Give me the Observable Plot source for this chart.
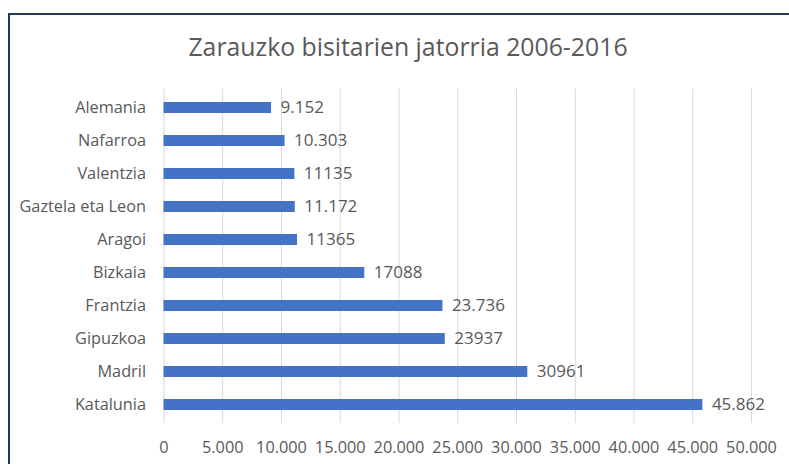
<!DOCTYPE html>
<html>
<head>
<meta charset="utf-8">
<script src="https://cdn.jsdelivr.net/npm/d3@7"></script>
<script src="https://cdn.jsdelivr.net/npm/@observablehq/plot@0.6"></script>
<style>
  html, body { margin: 0; padding: 0; background: #fff; }
  #wrap { position: relative; width: 789px; height: 464px; overflow: hidden; font-family: "Open Sans", sans-serif; }
  #frame { position: absolute; left: 8px; top: 13px; width: 800px; height: 500px; border-top: 2px solid #1f3864; border-left: 2px solid #1f3864; box-sizing: border-box; }
  #title { position: absolute; left: 0; width: 816px; top: 29px; text-align: center; font-size: 24.8px; color: #595959; line-height: 34px; }
  #chart { position: absolute; left: 0; top: 0; }
</style>
</head>
<body>
<div id="wrap">
  <div id="frame"></div>
  <div id="title">Zarauzko bisitarien jatorria 2006-2016</div>
  <div id="chart"></div>
</div>
<script>
const regions = ["Alemania", "Nafarroa", "Valentzia", "Gaztela eta Leon", "Aragoi", "Bizkaia", "Frantzia", "Gipuzkoa", "Madril", "Katalunia"];
const visitors = [9152, 10303, 11135, 11172, 11365, 17088, 23736, 23937, 30961, 45862];
const valueLabels = ["9.152", "10.303", "11135", "11.172", "11365", "17088", "23.736", "23937", "30961", "45.862"];
const xTicks = [0, 5000, 10000, 15000, 20000, 25000, 30000, 35000, 40000, 45000, 50000];
const xTickLabels = ["0", "5.000", "10.000", "15.000", "20.000", "25.000", "30.000", "35.000", "40.000", "45.000", "50.000"];

const data = regions.map((r, i) => ({region: r, value: visitors[i], label: valueLabels[i]}));
const fmt = (d) => xTickLabels[xTicks.indexOf(d)];

const chart = Plot.plot({
  width: 789,
  height: 464,
  marginLeft: 163.5,
  marginRight: 38,
  marginTop: 88.5,
  marginBottom: 41,
  style: {fontFamily: "Open Sans, sans-serif", fontSize: "16.3px", color: "#595959", background: "transparent"},
  x: {domain: [0, 50000], ticks: xTicks, tickFormat: fmt, label: null, tickSize: 0, tickPadding: 20},
  y: {domain: regions, padding: 0, label: null, tickSize: 0, tickPadding: 18},
  marks: [
    Plot.gridX(xTicks, {stroke: "#d9d9d9", strokeOpacity: 1, strokeWidth: 1}),
    Plot.barX(data, {x: "value", y: "region", fill: "#4472c4", insetTop: 11, insetBottom: 11}),
    Plot.text(data, {x: "value", y: "region", text: "label", textAnchor: "start", dx: 9, fill: "#595959", fontSize: 17}),
    Plot.axisX({ticks: xTicks, tickFormat: fmt, tickSize: 0, tickPadding: 18, fontSize: 16.3, fill: "#595959", label: null}),
    Plot.axisY({tickSize: 0, tickPadding: 18, fontSize: 16.3, fill: "#595959", label: null})
  ]
});
document.getElementById("chart").appendChild(chart);
</script>
</body>
</html>
